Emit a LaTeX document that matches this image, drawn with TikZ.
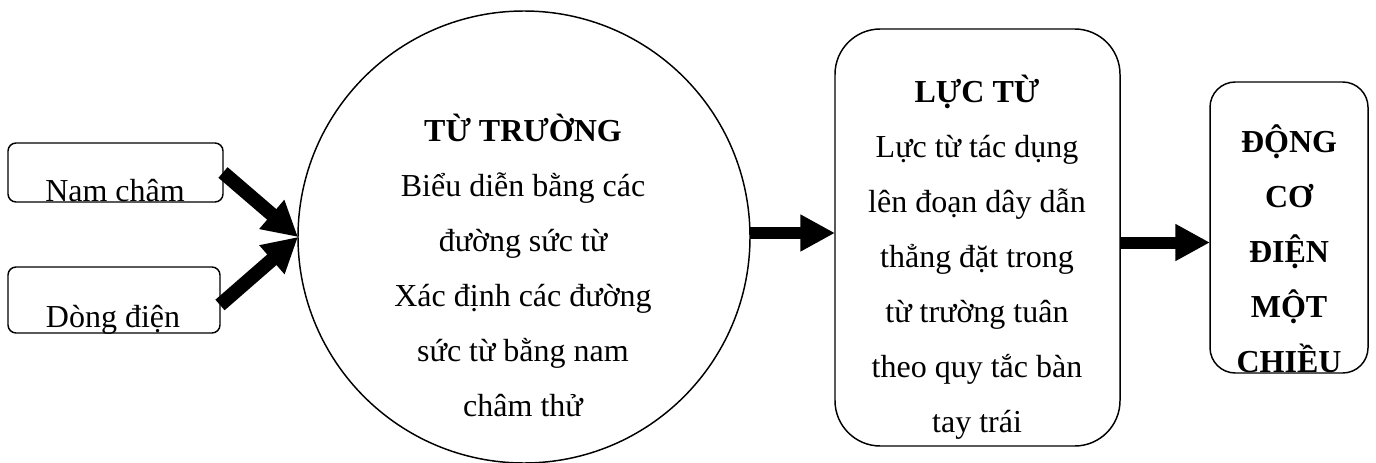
\documentclass[tikz,border=0pt]{standalone}
\usepackage{fontspec}
\setmainfont{Liberation Serif}
\usetikzlibrary{arrows.meta,calc}
\begin{document}
\begin{tikzpicture}[x=0.75pt,y=-0.75pt,
  every node/.style={inner sep=0pt,outer sep=0pt},
  txt/.style={font=\fontsize{24pt}{41.25pt}\selectfont,align=center},
  smallbox/.style={draw,line width=1.1pt,rounded corners=6pt},
  bigbox/.style={draw,line width=1.1pt},
  fat/.style={line width=10.5pt,-{Triangle[length=26pt,width=27pt]}},
  fatb/.style={line width=9pt,-{Triangle[length=26pt,width=26pt]}}]
\useasboundingbox (0,0) rectangle (1376,463);
% boxes
\node[smallbox,minimum width=161.25pt,minimum height=44.25pt] (nc) at (115.5,172.5) {};
\node[smallbox,minimum width=159pt,minimum height=49.5pt] (dd) at (114,300) {};
\node[bigbox,circle,minimum size=339pt] (tt) at (524,237) {};
\node[bigbox,rounded corners=34pt,minimum width=213.75pt,minimum height=312.75pt] (lt) at (977.5,237.5) {};
\node[bigbox,rounded corners=19pt,minimum width=118.5pt,minimum height=218.25pt] (dc) at (1289,227.5) {};
% texts
\node[txt,anchor=base] (nct) at (115,202) {Nam châm};
\node[txt,anchor=base] (ddt) at (113,327) {Dòng điện};
\node[txt] (ttt) at (523,265) {\textbf{TỪ TRƯỜNG}\\Biểu diễn bằng các\\đường sức từ\\Xác định các đường\\sức từ bằng nam\\châm thử};
\node[txt] (ltt) at (977,257) {\textbf{LỰC TỪ}\\Lực từ tác dụng\\lên đoạn dây dẫn\\thẳng đặt trong\\từ trường tuân\\theo quy tắc bàn\\tay trái};
\node[txt,font=\fontsize{24pt}{41.25pt}\selectfont\bfseries] (dct) at (1289,249) {ĐỘNG\\CƠ\\ĐIỆN\\MỘT\\CHIỀU};
% arrows
\draw[fat] (nc.east) -- (tt.west);
\draw[fat] ([yshift=-3.75pt]dd.east) -- (tt.west);
\coordinate (a0) at ([yshift=3pt]tt.east);
\draw[fatb] (a0) -- (a0 -| lt.west);
\coordinate (a1) at ([yshift=-3.75pt]lt.east);
\draw[fatb] (a1) -- (a1 -| dc.west);
\end{tikzpicture}
\end{document}
